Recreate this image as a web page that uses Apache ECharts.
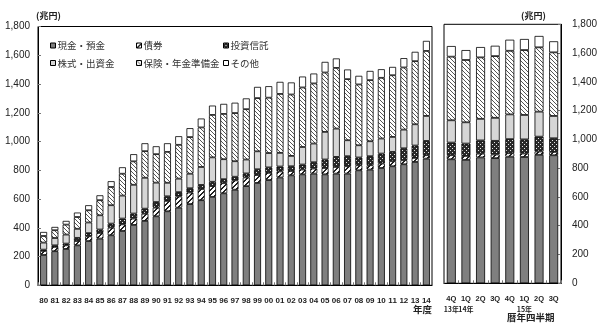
<!DOCTYPE html>
<html>
<head>
<meta charset="utf-8">
<script src="https://cdn.jsdelivr.net/npm/echarts@6/dist/echarts.min.js"></script>
<style>
  html, body { margin: 0; padding: 0; background: #fff; }
  #chart { width: 600px; height: 329px; }
</style>
</head>
<body>
<div id="chart"></div>
<script>
// Household financial assets (trillion yen), fiscal years and calendar quarters
const years = ['80','81','82','83','84','85','86','87','88','89','90','91','92','93','94','95','96','97','98','99',
               '00','01','02','03','04','05','06','07','08','09','10','11','12','13','14'];
const cash   = [211,237,253,278,308,325,348,378,420,448,480,515,540,565,592,615,640,665,690,712,732,750,765,772,777,772,777,777,800,805,816,828,842,858,881];
const bonds  = [28,30,25,30,33,39,53,46,44,50,60,72,78,80,78,75,70,65,60,55,50,42,30,33,35,44,46,51,35,30,31,35,28,28,24];
const trusts = [9,11,12,22,22,24,28,40,35,35,39,32,30,30,28,30,28,25,28,40,38,34,33,35,44,59,70,70,54,63,69,65,83,86,99];
const stocks = [49,51,63,63,74,99,128,160,200,215,135,94,94,101,125,170,139,108,97,125,100,95,72,122,130,192,197,111,85,104,105,104,130,148,174];
const insure = [46,54,69,82,85,105,127,152,163,185,198,215,235,255,275,295,315,335,350,370,385,410,427,414,418,413,422,425,423,425,422,429,432,439,452];
const other  = [28,23,26,31,35,34,40,45,50,55,55,60,60,62,62,65,70,72,75,78,80,84,84,76,69,74,66,67,60,64,60,58,65,65,70];

const quarters = ['4Q','1Q','2Q','3Q','4Q','1Q','2Q','3Q'];
const quarterYears = ['13年','14年','','','','15年','',''];
const qCash   = [862,858,875,870,880,878,893,890];
const qBonds  = [28,27,26,25,24,24,23,23];
const qTrusts = [88,86,92,95,98,98,103,95];
const qStocks = [155,148,150,160,172,170,174,155];
const qInsure = [442,433,427,429,442,451,447,442];
const qOther  = [74,69,72,72,77,77,79,77];

const names = ['現金・預金','債券','投資信託','株式・出資金','保険・年金準備金','その他'];
const yTicks = { min: 0, max: 1800, interval: 200 };

// small tiled fill patterns
function tile(size, bg, draw) {
  const c = document.createElement('canvas');
  c.width = size; c.height = size;
  const g = c.getContext('2d');
  g.fillStyle = bg; g.fillRect(0, 0, size, size);
  draw(g, size);
  return { image: c, repeat: 'repeat' };
}
const bondFill = tile(5, '#fff', (g, s) => {
  g.fillStyle = '#222';
  for (let i = 0; i < s; i++) { g.fillRect(i, s - 1 - i, 1, 1); g.fillRect(i, (s - i) % s, 1, 1); }
});
const trustFill = tile(4, '#2a2a2a', (g) => {
  g.fillStyle = '#e8e8e8';
  g.fillRect(0, 0, 1, 1); g.fillRect(2, 2, 1, 1);
});
const insureFill = tile(4, '#fff', (g, s) => {
  g.fillStyle = '#555';
  for (let i = 0; i < s; i++) g.fillRect(i, i, 1, 1);
});
const fills = ['#7f7f7f', bondFill, trustFill, '#d6d6d6', insureFill, '#ffffff'];

const fmt = v => v >= 1000 ? Math.floor(v / 1000) + ',' + String(v % 1000).padStart(3, '0') : String(v);
const labelFont = 'Liberation Sans';
const textColor = '#222';

function makeSeries(idx, arrays, barWidth) {
  return arrays.map((arr, k) => ({
    name: names[k],
    type: 'bar',
    stack: 'g' + idx,
    xAxisIndex: idx,
    yAxisIndex: idx,
    barWidth: barWidth,
    data: arr,
    itemStyle: { color: fills[k], borderColor: '#000', borderWidth: 0.8 },
    emphasis: { disabled: true },
    animation: false
  }));
}

const legendCols = [50, 136, 223];
const legendRows = [39.5, 57];
const legends = names.map((n, k) => ({
  data: [n],
  left: legendCols[k % 3],
  top: legendRows[Math.floor(k / 3)],
  padding: 0,
  itemWidth: 5,
  itemHeight: 5,
  icon: 'rect',
  itemStyle: { borderColor: '#000', borderWidth: 1 },
  textStyle: { fontSize: 9.5, color: '#333', fontFamily: 'Noto Sans CJK JP', lineHeight: 12, padding: [0, 0, 0, -3] },
  selectedMode: false
}));

const axisCommon = {
  axisLine: { show: true, lineStyle: { color: '#000', width: 1 } },
  splitLine: { show: false }
};

const option = {
  backgroundColor: '#fff',
  animation: false,
  legend: legends,
  grid: [
    { left: 38, top: 26.5, width: 394, height: 258.8, show: true, borderColor: '#000', borderWidth: 1, backgroundColor: 'transparent' },
    { left: 444, top: 24.3, width: 117, height: 259, show: true, borderColor: '#000', borderWidth: 1, backgroundColor: 'transparent' }
  ],
  xAxis: [
    Object.assign({}, axisCommon, {
      gridIndex: 0, type: 'category', data: years,
      axisTick: { show: true, inside: true, length: 3, lineStyle: { color: '#777' } },
      axisLabel: { interval: 0, fontSize: 8, margin: 11, color: textColor, fontFamily: labelFont, fontWeight: 'bold' }
    }),
    Object.assign({}, axisCommon, {
      gridIndex: 1, type: 'category', data: quarters,
      axisTick: { show: true, inside: true, length: 3, lineStyle: { color: '#777' } },
      axisLabel: {
        interval: 0, fontSize: 7.5, margin: 11, color: textColor, fontFamily: labelFont, fontWeight: 'bold', lineHeight: 10,
        formatter: (v, i) => quarterYears[i] ? v + '\n{y|' + quarterYears[i] + '}' : v,
        rich: { y: { fontSize: 7, lineHeight: 10, color: textColor, fontFamily: 'Noto Sans CJK JP', fontWeight: 'bold' } }
      }
    })
  ],
  yAxis: [
    Object.assign({}, axisCommon, yTicks, {
      gridIndex: 0, type: 'value',
      axisTick: { show: true, inside: true, length: 3, lineStyle: { color: '#777' } },
      axisLabel: { formatter: fmt, fontSize: 10, margin: 8, color: textColor, fontFamily: labelFont }
    }),
    Object.assign({}, axisCommon, yTicks, {
      gridIndex: 1, type: 'value', position: 'right',
      axisTick: { show: true, inside: true, length: 3, lineStyle: { color: '#777' } },
      axisLabel: { formatter: fmt, fontSize: 10, margin: 11, color: textColor, fontFamily: labelFont }
    })
  ],
  graphic: [
    { type: 'text', left: 36, top: 11, style: { text: '(兆円)', fontSize: 9, fill: textColor, fontFamily: 'Noto Sans CJK JP', fontWeight: 'bold' } },
    { type: 'text', left: 521, top: 11, style: { text: '(兆円)', fontSize: 9, fill: textColor, fontFamily: 'Noto Sans CJK JP', fontWeight: 'bold' } },
    { type: 'text', left: 413, top: 305, style: { text: '年度', fontSize: 9.5, fill: textColor, fontFamily: 'Noto Sans CJK JP', fontWeight: 'bold' } },
    { type: 'text', left: 507, top: 313, style: { text: '暦年四半期', fontSize: 9.5, fill: textColor, fontFamily: 'Noto Sans CJK JP', fontWeight: 'bold' } }
  ],
  series: makeSeries(0, [cash, bonds, trusts, stocks, insure, other], 7)
    .concat(makeSeries(1, [qCash, qBonds, qTrusts, qStocks, qInsure, qOther], 9))
};

const chart = echarts.init(document.getElementById('chart'), null, { renderer: 'canvas' });
chart.setOption(option);
</script>
</body>
</html>
